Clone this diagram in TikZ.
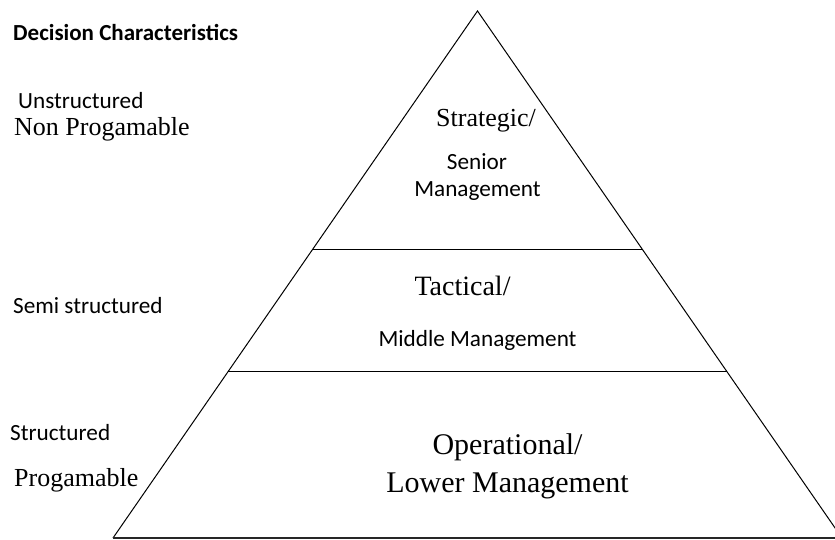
\documentclass[tikz,border=0pt]{standalone}
\usepackage{fontspec}
\setmainfont{Liberation Serif}
\newfontfamily\calfont{Carlito}
\usetikzlibrary{calc}

\tikzset{
  serifbig/.style={font=\fontsize{26}{30}\selectfont, inner sep=0pt},
  sanslbl/.style={font=\calfont\fontsize{23.2}{27}\selectfont, inner sep=0pt},
  pyrline/.style={line width=1pt, line join=miter},
}

\begin{document}
\begin{tikzpicture}[x=1pt, y=1pt]
  \useasboundingbox (0,0) rectangle (835,540);
  \clip (0,0) rectangle (835,540);

  % pyramid
  \coordinate (apex) at (477.5,529);
  \coordinate (bl) at (113,2);
  \coordinate (br) at (842,2);
  \draw[pyrline] (bl) -- (apex) -- (br);
  \draw[line width=1.6pt, black!85] (bl) -- (br);
  \draw[pyrline] ($(bl)!0.548!(apex)$) -- ($(br)!0.548!(apex)$);
  \draw[pyrline] ($(bl)!0.315!(apex)$) -- ($(br)!0.315!(apex)$);

  % left column
  \node[sanslbl, font=\calfont\bfseries\fontsize{23}{27}\selectfont, anchor=base west] (title) at (13,499) {Decision Characteristics};
  \node[sanslbl, anchor=base west] (unstr) at (18,431) {Unstructured};
  \node[serifbig, anchor=base west] (nonprog) at (14,404) {Non Progamable};
  \node[sanslbl, anchor=base west] (semi) at (13,226) {Semi structured};
  \node[sanslbl, anchor=base west] (str) at (10,99) {Structured};
  \node[serifbig, anchor=base west] (prog) at (14,53) {Progamable};

  % levels
  \node[serifbig, anchor=base] (strat) at (486,413) {Strategic/};
  \node[sanslbl, anchor=base] (senior) at (477,370) {Senior};
  \node[sanslbl, anchor=base] (seniormgt) at (477.5,343) {Management};
  \node[serifbig, font=\fontsize{28}{32}\selectfont, anchor=base] (tact) at (462.5,244) {Tactical/};
  \node[sanslbl, anchor=base] (midmgt) at (477.5,193) {Middle Management};
  \node[serifbig, font=\fontsize{30}{34}\selectfont, anchor=base] (oper) at (507.5,85) {Operational/};
  \node[serifbig, font=\fontsize{30}{34}\selectfont, anchor=base] (lowmgt) at (507.5,47) {Lower Management};
\end{tikzpicture}
\end{document}
